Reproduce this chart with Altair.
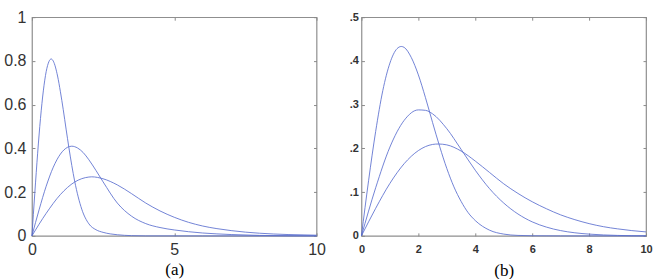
import altair as alt
import pandas as pd

# ---------------- panel (a) ----------------
a1_x = [0, 0.1, 0.2, 0.3, 0.4, 0.5, 0.6, 0.675, 0.75, 0.9, 1.0, 1.1, 1.2, 1.3, 1.4, 1.5, 1.75, 2.0, 2.25, 2.5, 2.75, 3.0, 3.5, 4.0, 6.0, 10.0]
a1_y = [0, 0.195, 0.378, 0.537, 0.663, 0.751, 0.798, 0.809, 0.799, 0.731, 0.659, 0.577, 0.488, 0.402, 0.322, 0.251, 0.122, 0.055, 0.028, 0.016, 0.009, 0.005, 0.001, 0.0, 0.0, 0.0]

a2_x = [0, 0.25, 0.5, 0.75, 1.0, 1.25, 1.4, 1.6, 1.8, 2.0, 2.25, 2.5, 3.0, 3.5, 4.0, 4.5, 5.0, 5.5, 6.0, 6.5, 7.0, 8.0, 9.0, 10.0]
a2_y = [0, 0.119, 0.227, 0.314, 0.374, 0.405, 0.410, 0.402, 0.381, 0.348, 0.299, 0.247, 0.150, 0.090, 0.056, 0.038, 0.027, 0.019, 0.013, 0.009, 0.006, 0.002, 0.0005, 0.0]

a3_x = [0, 0.5, 1.0, 1.5, 2.0, 2.1, 2.5, 3.0, 3.5, 4.0, 4.5, 5.0, 5.5, 6.0, 6.5, 7.0, 7.5, 8.0, 9.0, 10.0]
a3_y = [0, 0.103, 0.189, 0.246, 0.269, 0.270, 0.261, 0.233, 0.193, 0.150, 0.114, 0.085, 0.062, 0.045, 0.033, 0.024, 0.017, 0.012, 0.006, 0.003]

# ---------------- panel (b) ----------------
b1_x = [0, 0.25, 0.5, 0.75, 1.0, 1.25, 1.4, 1.5, 1.75, 2.0, 2.25, 2.5, 2.75, 3.0, 3.25, 3.5, 3.75, 4.0, 4.5, 5.0, 5.5, 6.0, 7.0, 10.0]
b1_y = [0, 0.126, 0.239, 0.332, 0.395, 0.428, 0.433, 0.431, 0.408, 0.368, 0.316, 0.259, 0.204, 0.154, 0.112, 0.079, 0.053, 0.035, 0.013, 0.004, 0.001, 0.0003, 0.0, 0.0]

b2_x = [0, 0.5, 1.0, 1.5, 2.0, 2.25, 2.5, 3.0, 3.5, 4.0, 4.5, 5.0, 5.5, 6.0, 6.5, 7.0, 7.5, 8.0, 9.0, 10.0]
b2_y = [0, 0.110, 0.203, 0.264, 0.288, 0.287, 0.279, 0.245, 0.198, 0.150, 0.108, 0.075, 0.050, 0.032, 0.020, 0.012, 0.007, 0.004, 0.001, 0.0]

b3_x = [0, 0.5, 1.0, 1.5, 2.0, 2.5, 2.7, 3.0, 3.5, 4.0, 4.5, 5.0, 5.5, 6.0, 6.5, 7.0, 7.5, 8.0, 8.5, 9.0, 9.5, 10.0]
b3_y = [0, 0.063, 0.120, 0.165, 0.195, 0.209, 0.210, 0.208, 0.194, 0.171, 0.145, 0.119, 0.097, 0.078, 0.062, 0.048, 0.037, 0.028, 0.021, 0.016, 0.012, 0.009]

a_yticks = [0, 0.2, 0.4, 0.6, 0.8, 1.0]
a_xticks = [0, 5, 10]
b_yticks = [0, 0.1, 0.2, 0.3, 0.4, 0.5]
b_xticks = [0, 2, 4, 6, 8, 10]


def frame(curves):
    rows = []
    for name, xs, ys in curves:
        for x, y in zip(xs, ys):
            rows.append({"curve": name, "x": x, "y": y})
    return pd.DataFrame(rows)


df_a = frame([("1", a1_x, a1_y), ("2", a2_x, a2_y), ("3", a3_x, a3_y)])
df_b = frame([("1", b1_x, b1_y), ("2", b2_x, b2_y), ("3", b3_x, b3_y)])

TICK = "#8a8a8a"
LINE = "#5a6ecf"


def panel(df, ydom, yticks, xticks, caption, lab_size, lab_weight, ylab_pad, xlab_pad,
          title_pad, ylabel_expr):
    xs = alt.Scale(domain=[0, 10], nice=False, zero=False)
    ys = alt.Scale(domain=ydom, nice=False, zero=False)
    common = dict(tickColor=TICK, tickSize=3, offset=-3, domain=False, grid=False,
                  labelFont="Liberation Sans", labelFontSize=lab_size,
                  labelFontWeight=lab_weight, labelColor="#333333",
                  labelFlush=False, labelOverlap=False, labelBound=False)
    xaxis = alt.Axis(values=xticks, orient="bottom", labelPadding=xlab_pad,
                     title=caption, titleFont="Liberation Serif", titleFontSize=17,
                     titleFontWeight="normal", titleColor="#000000",
                     titlePadding=title_pad, **common)
    yaxis = alt.Axis(values=yticks, orient="left", labelPadding=ylab_pad,
                     labelExpr=ylabel_expr, title=None, **common)
    lines = alt.Chart(df).mark_line(color=LINE, strokeWidth=0.85,
                                    interpolate="monotone").encode(
        x=alt.X("x:Q", scale=xs, axis=xaxis),
        y=alt.Y("y:Q", scale=ys, axis=yaxis),
        detail="curve:N",
    )
    tick_common = dict(tickColor=TICK, tickSize=3, offset=-3, domain=False,
                       grid=False, labels=False, title=None)
    ghost = alt.Chart(df).mark_point(opacity=0).encode(
        x=alt.X("x:Q", scale=xs, axis=alt.Axis(values=xticks, orient="top", **tick_common)),
        y=alt.Y("y:Q", scale=ys, axis=alt.Axis(values=yticks, orient="right", **tick_common)),
    )
    return alt.layer(lines, ghost).resolve_axis(x="independent", y="independent").properties(
        width=285, height=219)


pa = panel(df_a, [0, 1], a_yticks, a_xticks, "(a)", 16, "normal", 6, 6, 4,
           "format(datum.value, '~g')")
pb = panel(df_b, [0, 0.5], b_yticks, b_xticks, "(b)", 11, "bold", 3, 8, 8,
           "datum.value == 0 ? '0' : '.' + format(datum.value * 10, '.0f')")

chart = alt.hconcat(pa, pb, spacing=45, bounds="flush").properties(
    padding={"left": 3, "top": 8, "right": 5, "bottom": 2},
    background="white",
).configure_view(stroke="#8f8f8f", strokeWidth=1.2)

chart.save("out.html", embed_options={"renderer": "svg", "actions": False})
